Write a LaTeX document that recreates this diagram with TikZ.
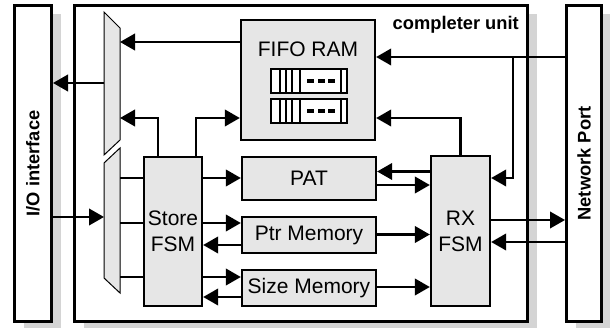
\documentclass[tikz,border=0pt]{standalone}
\usepackage{fontspec}
\setmainfont{Liberation Sans}
\usetikzlibrary{arrows.meta,shadows}

\definecolor{boxfill}{HTML}{E6E6E6}
\definecolor{shadowgray}{HTML}{D4D4D4}

\begin{document}
\begin{tikzpicture}[x=1pt,y=-1pt,
  outerbox/.style={draw, line width=3pt, fill=white, inner sep=0pt,
    drop shadow={shadow xshift=9pt, shadow yshift=-9pt, opacity=1, fill=shadowgray},
    font=\bfseries\fontsize{18.3}{22}\selectfont},
  block/.style={draw, line width=2.3pt, fill=boxfill, inner sep=0pt, align=center,
    font=\fontsize{21}{26}\selectfont},
  muxshape/.style={draw, line width=1pt, fill=boxfill},
  conn/.style={line width=2.3pt},
  arr/.style={conn, -{Triangle[length=15pt,width=16.5pt]}},
  regline/.style={line width=1.6pt}
]
\useasboundingbox (0,0) rectangle (610,328);

% outer frames
\node[outerbox, minimum width=37pt, minimum height=316pt] (io) at (33,163.5) {\rotatebox{90}{I/O interface}};
\node[outerbox, minimum width=453pt, minimum height=316pt] (unit) at (301,163.5) {};
\node[outerbox, minimum width=35pt, minimum height=316pt] (net) at (584,163.5) {\rotatebox{90}{Network Port}};
\node[anchor=base east, inner sep=0pt, font=\bfseries\fontsize{18.3}{22}\selectfont] (unitlabel) at (519,30) {completer unit};

% functional blocks
\node[block, minimum width=134pt, minimum height=120pt] (fifo) at (308,80) {};
\node[anchor=base, inner sep=0pt, font=\fontsize{21}{26}\selectfont] (fifolabel) at (308,57) {FIFO RAM};
\node[block, minimum width=58pt, minimum height=149pt] (store) at (173,231.5) {Store\\FSM};
\node[block, minimum width=134pt, minimum height=43pt] (pat) at (309,178.5) {PAT};
\node[block, minimum width=134pt, minimum height=36pt] (ptr) at (309,235) {Ptr Memory};
\node[block, minimum width=134pt, minimum height=36pt] (size) at (309,288) {Size Memory};
\node[block, minimum width=59pt, minimum height=150pt] (rx) at (460.5,231) {RX\\FSM};

% memory rows inside the FIFO
\foreach \t in {69,99} {
  \draw[regline, fill=white] (271,\t) rectangle (347,\t+24);
  \foreach \x in {280,286,292,300,341}
    \draw[regline] (\x,\t) -- (\x,\t+24);
  \foreach \x in {307,318,328}
    \draw[line width=3.3pt] (\x,\t+12) -- (\x+7,\t+12);
}

% multiplexers
\draw[muxshape] (104,12) -- (120,28) -- (120,140) -- (104,155) -- cycle;
\draw[muxshape] (104,163) -- (120,148) -- (120,293) -- (104,278) -- cycle;
\coordinate (muxA-o) at (104,83);
\coordinate (muxA-i1) at (120,42);
\coordinate (muxA-i2) at (120,118);
\coordinate (muxB-i) at (104,217);
\coordinate (muxB-o1) at (120,178);
\coordinate (muxB-o2) at (120,223);
\coordinate (muxB-o3) at (120,277);
\coordinate (tap) at (513,57);

% I/O side
\draw[arr] (muxA-o) -- (io.east |- muxA-o);
\draw[arr] (io.east |- muxB-i) -- (muxB-i);
\draw[arr] (fifo.west |- muxA-i1) -- (muxA-i1);
\draw[arr] (store.north -| 158,0) |- (muxA-i2);
\draw[arr] (store.north -| 196,0) |- (fifo.west |- muxA-i2);
\foreach \o in {muxB-o1,muxB-o2,muxB-o3}
  \draw[conn] (\o) -- (store.west |- \o);

% store FSM to tables
\draw[arr] (store.east |- muxB-o1) -- (pat.west |- muxB-o1);
\draw[arr] (store.east |- muxB-o2) -- (ptr.west |- muxB-o2);
\draw[arr] (ptr.west |- 0,245) -- (store.east |- 0,245);
\draw[arr] (store.east |- muxB-o3) -- (size.west |- muxB-o3);
\draw[arr] (size.west |- 0,297) -- (store.east |- 0,297);

% RX FSM links
\draw[arr] (rx.west |- 0,171.5) -- (pat.east |- 0,171.5);
\draw[arr] (pat.east |- 0,185) -- (rx.west |- 0,185);
\draw[arr] (ptr.east |- 0,234.5) -- (rx.west |- 0,234.5);
\draw[arr] (size.east |- 0,287) -- (rx.west |- 0,287);
\draw[arr] (rx.north) |- (fifo.east |- muxA-i2);

% network side
\draw[arr] (net.west |- tap) -- (fifo.east |- tap);
\draw[arr] (tap) |- (rx.east |- 0,178);
\draw[arr] (rx.east |- 0,220) -- (net.west |- 0,220);
\draw[arr] (net.west |- 0,242) -- (rx.east |- 0,242);
\end{tikzpicture}
\end{document}
